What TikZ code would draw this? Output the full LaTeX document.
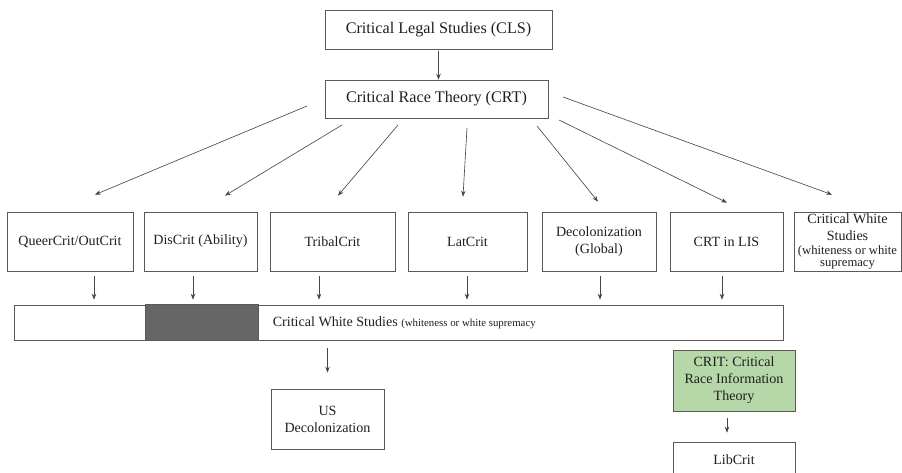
\documentclass[tikz,border=0pt]{standalone}
\usepackage{fontspec}
\setmainfont{Liberation Serif}
\usetikzlibrary{calc,arrows.meta}
\definecolor{critgreen}{RGB}{182,215,168}

\begin{document}
\begin{tikzpicture}[
    x=0.025cm,
    y=-0.025cm,
    box/.style={draw=black!65,line width=0.5pt,inner sep=0pt,align=center,
        text=black!88,font=\fontsize{10}{12}\selectfont},
    topbox/.style={box,font=\fontsize{11.5}{13}\selectfont},
    rowbox/.style={box,minimum height=1.475cm},
    small/.style={font=\fontsize{8.5}{9.3}\selectfont},
    link/.style={-{Stealth[length=4.2pt,width=3.2pt]},draw=black!72,line width=0.45pt}
]

% Frame of the page.
\useasboundingbox (0,0) rectangle (902,473);
\clip (0,0) rectangle (902,473);

% Origin and core theory.
\node[topbox,minimum width=5.675cm,minimum height=0.975cm] (cls) at (438.5,29.5)
    {Critical Legal Studies (CLS)};
\node[topbox,minimum width=5.575cm,minimum height=0.95cm] (crt) at (436.5,99)
    {Critical Race Theory (CRT)};

% Branches of CRT.
\node[rowbox,minimum width=3.15cm] (queer) at (70,241.5) {QueerCrit/OutCrit};
\node[rowbox,minimum width=2.825cm] (discrit) at (200.5,241.5) {DisCrit (Ability)};
\node[rowbox,minimum width=3.125cm] (tribal) at (332.5,241.5) {TribalCrit};
\node[rowbox,minimum width=2.975cm] (latcrit) at (467.5,241.5) {LatCrit};
\node[rowbox,minimum width=2.85cm] (decol) at (599,241.5) {Decolonization\\(Global)};
\node[rowbox,minimum width=2.825cm] (crtlis) at (726.5,241.5) {CRT in LIS};
\node[rowbox,minimum width=2.675cm] (cws) at (847.5,241.5)
    {Critical White\\Studies\\[-2pt]{\small(whiteness or white}\\[-3pt]{\small supremacy}};

% Shared band across the branches.
\node[box,minimum width=19.225cm,minimum height=0.875cm] (bar) at (398.5,322.5) {};
\filldraw[fill=black!60,draw=black!65,line width=0.5pt]
    ($(bar.north west)+(132,0)$) rectangle ($(bar.south west)+(245,0)$);
\node[anchor=west,inner sep=0pt,text=black!88,font=\fontsize{10}{12}\selectfont]
    (barlabel) at ($(bar.west)+(259,0)$)
    {Critical White Studies {\fontsize{7.7}{9}\selectfont(whiteness or white supremacy}};

% Lower boxes.
\node[box,minimum width=2.825cm,minimum height=1.5cm] (usdecol) at (327.5,419)
    {US\\Decolonization};
\node[box,fill=critgreen,minimum width=3.05cm,minimum height=1.525cm]
    (crit) at (734,380.5) {CRIT: Critical\\Race Information\\Theory};
\node[box,minimum width=3.05cm,minimum height=0.9cm] (libcrit) at (734,460) {LibCrit};

% Connectors.
\draw[link,shorten <=0.03cm] (cls.south) -- (cls.south |- crt.north);
\draw[link] ($(crt)+(-129.5,7)$) -- ($(queer.north)+(25,-17)$);
\draw[link] ($(crt)+(-94.5,26)$) -- ($(discrit.north)+(24.5,-16)$);
\draw[link] ($(crt)+(-38.5,26)$) -- ($(tribal.north)+(5.5,-16)$);
\draw[link] ($(crt)+(30.5,29)$) -- ($(latcrit.north)+(-4.5,-15)$);
\draw[link] ($(crt)+(100.5,27)$) -- ($(decol.north)+(-1,-10)$);
\draw[link] ($(crt)+(122.5,21)$) -- ($(crtlis.north)+(0.5,-9)$);
\draw[link] ($(crt)+(126.5,-2)$) -- ($(cws.north)+(-15.5,-17)$);

% Branches into the band.
\foreach \n/\dx in {queer/24,discrit/-7.5,tribal/-13.5,latcrit/-0.5,decol/1,crtlis/-4.5} {
    \draw[link,shorten <=0.125cm,shorten >=0.125cm]
        ([xshift=\dx*0.025cm]\n.south) -- ([xshift=\dx*0.025cm]\n.south |- bar.north);
}
\draw[link,shorten <=0.2cm,shorten >=0.4cm] (usdecol.north |- bar.south) -- (usdecol.north);
\draw[link,shorten <=0.175cm,shorten >=0.225cm]
    ([xshift=-0.175cm]crit.south) -- ([xshift=-0.175cm]crit.south |- libcrit.north);

\end{tikzpicture}
\end{document}
